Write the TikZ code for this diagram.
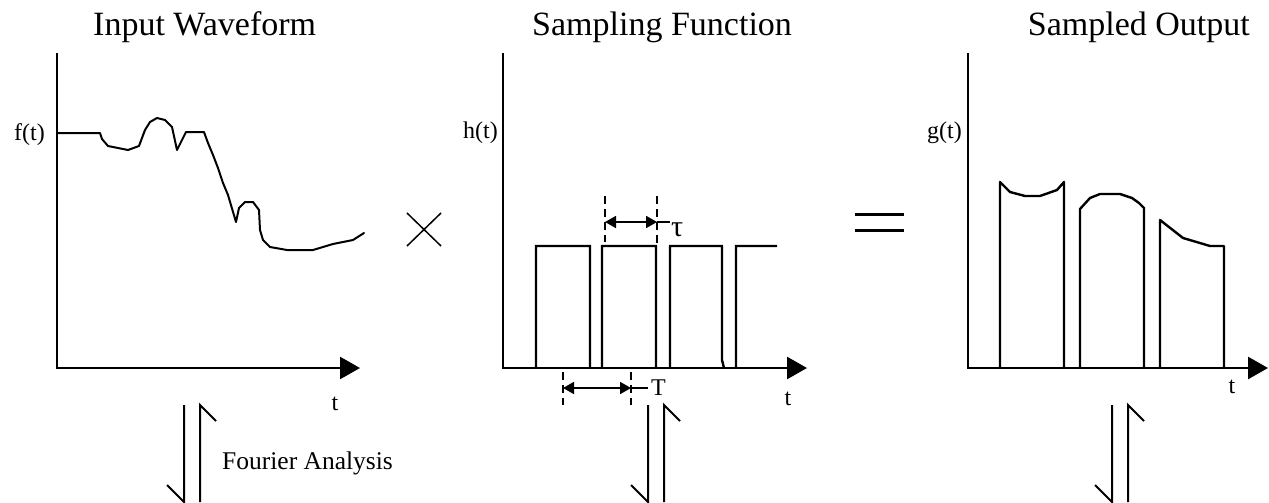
\documentclass[tikz,border=0pt]{standalone}
\usepackage{fontspec}
\setmainfont{Liberation Serif}
\usetikzlibrary{arrows.meta}
\begin{document}
\begin{tikzpicture}[x=1pt,y=-1pt,
  axisline/.style={line width=2.6pt, line join=miter, -{Triangle[length=20pt,width=22pt]}},
  sig/.style={line width=2pt, line join=round, line cap=round},
  pulse/.style={line width=2.4pt, line join=miter},
  dimarrow/.style={line width=1.8pt, {Triangle[length=11pt,width=12pt]}-{Triangle[length=11pt,width=12pt]}},
  dimline/.style={line width=1.8pt},
  dashline/.style={line width=1.8pt, dash pattern=on 8pt off 5pt},
  harpoon/.style={line width=2pt, line join=miter},
  lbl/.style={font=\fontsize{24}{28}\selectfont, inner sep=0pt},
  ttl/.style={font=\fontsize{34}{40}\selectfont, inner sep=0pt}]
\useasboundingbox (0,0) rectangle (1269,503);

% titles
\node[ttl, anchor=base west] (t1) at (93,36) {Input Waveform};
\node[ttl, anchor=base west] (t2) at (532,36) {Sampling Function};
\node[ttl, anchor=base east] (t3) at (1250,36) {Sampled Output};

% ---------- panel 1 ----------
\coordinate (a1top) at (57,53);
\coordinate (a1org) at (57,368);
\coordinate (a1end) at (360,368);
\draw[axisline] (a1top) -- (a1org) -- (a1end);
\node[lbl, anchor=base east] (f) at (45,140) {f(t)};
\node[lbl, anchor=base] (tx1) at (335,410) {t};
\draw[sig] (57,133) -- (100,133) -- (102,139) -- (108,146) -- (128,150) -- (139,146)
  -- (145,130) -- (150,122) -- (157,118) -- (165,120) -- (172,127) -- (177,150)
  -- (186,132) -- (204,132) -- (208,143) -- (213,155) -- (218,168) -- (223,183)
  -- (228,195) -- (236,222) -- (239,208) -- (245,202) -- (253,202) -- (259,210)
  -- (260,230) -- (263,240) -- (270,247) -- (287,250) -- (313,250) -- (333,244)
  -- (353,240) -- (364,233);

% multiply sign
\coordinate (m1) at (407,213); \coordinate (m2) at (441,246);
\coordinate (m3) at (441,213); \coordinate (m4) at (407,246);
\draw[line width=1.5pt] (m1) -- (m2) (m3) -- (m4);

% ---------- panel 2 ----------
\coordinate (a2top) at (503,53);
\coordinate (a2org) at (503,368);
\coordinate (a2end) at (807,368);
\draw[axisline] (a2top) -- (a2org) -- (a2end);
\node[lbl, anchor=base east] (h) at (498,138) {h(t)};
\node[lbl, anchor=base] (tx2) at (788,405) {t};
\draw[pulse] (536,368) -- (536,246) -- (590,246) -- (590,368)
  (602,368) -- (602,246) -- (656,246) -- (656,368)
  (670,368) -- (670,246) -- (722,246) -- (722,360) -- (724,368)
  (736,368) -- (736,246) -- (777,246);
% tau dimension
\coordinate (ta) at (605,222); \coordinate (tb) at (657,222); \coordinate (tc) at (670,222);
\draw[dashline] (605,196) -- (605,242) (657,196) -- (657,243);
\draw[dimarrow] (ta) -- (tb);
\draw[dimline] (tb) -- (tc);
\node[font=\fontsize{30}{34}\selectfont, inner sep=0pt, anchor=base west] (tau) at (671,236) {τ};
% T dimension
\coordinate (Ta) at (563,388); \coordinate (Tb) at (631,388); \coordinate (Tc) at (648,388);
\draw[dashline] (563,372) -- (563,405) (631,372) -- (631,405);
\draw[dimarrow] (Ta) -- (Tb);
\draw[dimline] (Tb) -- (Tc);
\node[lbl, anchor=base west] (TT) at (651,395) {T};

% equals sign
\coordinate (e1) at (855,214); \coordinate (e2) at (904,214);
\coordinate (e3) at (855,230); \coordinate (e4) at (904,230);
\draw[line width=3pt] (e1) -- (e2) (e3) -- (e4);

% ---------- panel 3 ----------
\coordinate (a3top) at (968,53);
\coordinate (a3org) at (968,368);
\coordinate (a3end) at (1268,368);
\draw[axisline] (a3top) -- (a3org) -- (a3end);
\node[lbl, anchor=base east] (g) at (962,138) {g(t)};
\node[lbl, anchor=base] (tx3) at (1232,393) {t};
\draw[pulse, line join=round] (1000,368) -- (1000,182) -- (1010,192) -- (1025,196) -- (1040,196)
  -- (1057,190) -- (1064,182) -- (1064,368)
  (1080,368) -- (1080,209) -- (1090,198) -- (1100,194) -- (1120,194) -- (1132,198)
  -- (1139,203) -- (1144,208) -- (1144,368)
  (1160,368) -- (1160,220) -- (1183,238) -- (1210,246) -- (1224,246) -- (1224,368);

% ---------- Fourier harpoons ----------
\foreach \x/\n in {184/p, 648/q, 1112/r}{
  \coordinate (\n dtop) at (\x,405);
  \coordinate (\n dbot) at (\x,502);
  \coordinate (\n dbarb) at (\x-17,485);
  \coordinate (\n ubot) at (\x+16,502);
  \coordinate (\n utop) at (\x+16,405);
  \coordinate (\n ubarb) at (\x+32,421);
  \draw[harpoon] (\n dtop) -- (\n dbot) -- (\n dbarb);
  \draw[harpoon] (\n ubot) -- (\n utop) -- (\n ubarb);
}
\node[font=\fontsize{25.5}{30}\selectfont, inner sep=0pt, anchor=base west] (fa) at (222,469) {Fourier Analysis};
\end{tikzpicture}
\end{document}
